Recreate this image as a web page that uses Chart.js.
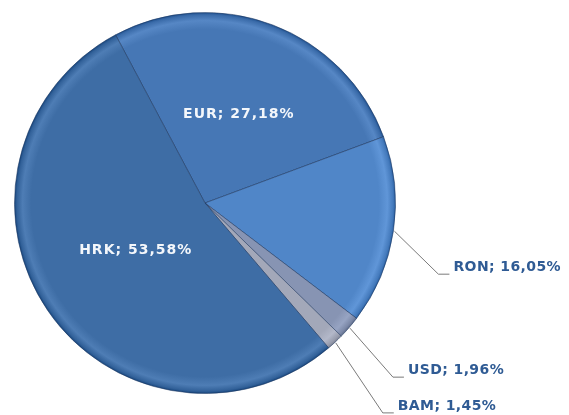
<!DOCTYPE html>
<html>
<head>
<meta charset="utf-8">
<script src="https://cdn.jsdelivr.net/npm/chart.js@4/dist/chart.umd.min.js"></script>
<style>
  html, body { margin: 0; padding: 0; background: #fff; }
  canvas { display: block; }
</style>
</head>
<body>
<canvas id="currencyPie" width="569" height="415"></canvas>
<script>
// currency share of the portfolio, clockwise from the EUR/HRK edge
const currencies = ["EUR", "RON", "USD", "BAM", "HRK"]
const shares = [27.18, 16.05, 1.96, 1.45, 53.58]
const sliceColors = ["#4677b5", "#5086c8", "#8794b3", "#a3a8b9", "#3e6da5"]

// label placement (style only): inside labels by radius fraction, outside ones by leader elbow offset
const insideLabel = { EUR: 0.5, HRK: 0.44 }
const leaderOffset = { RON: [44, 43], USD: [43, 49], BAM: [47, 70] }

function shade(hex, amt) {
  const n = parseInt(hex.slice(1), 16)
  const f = (c) => Math.max(0, Math.min(255, Math.round(c + amt)))
  return `rgb(${f(n >> 16)},${f((n >> 8) & 255)},${f(n & 255)})`
}

function bevelFill(context) {
  const chart = context.chart
  const area = chart.chartArea
  const base = sliceColors[context.dataIndex]
  if (!area) return base
  const cx = (area.left + area.right) / 2, cy = (area.top + area.bottom) / 2
  const r = Math.min(area.width, area.height) / 2
  const g = chart.ctx.createRadialGradient(cx, cy, 0, cx, cy, r)
  g.addColorStop(0, base)
  g.addColorStop(0.91, base)
  g.addColorStop(0.955, shade(base, 16))
  g.addColorStop(0.985, shade(base, -12))
  g.addColorStop(1, shade(base, -45))
  return g
}

const pctText = (v) => v.toFixed(2).replace(".", ",") + "%"

const labelPlugin = {
  id: "pieLabels",
  afterDatasetsDraw(chart) {
    const ctx = chart.ctx
    const meta = chart.getDatasetMeta(0)
    ctx.save()
    ctx.font = "bold 14px 'DejaVu Sans', Verdana, sans-serif"
    meta.data.forEach((arc, i) => {
      const p = arc.getProps(["x", "y", "startAngle", "endAngle", "outerRadius"], true)
      const mid = (p.startAngle + p.endAngle) / 2
      const name = currencies[i]
      const text = name + "; " + pctText(shares[i])
      if (insideLabel[name]) {
        const r = p.outerRadius * insideLabel[name]
        ctx.letterSpacing = "1px"
        ctx.fillStyle = "#f4f7fb"
        ctx.textAlign = "center"
        ctx.textBaseline = "middle"
        ctx.fillText(text, p.x + Math.cos(mid) * r, p.y + Math.sin(mid) * r)
        return
      }
      const off = leaderOffset[name]
      const sx = p.x + Math.cos(mid) * (p.outerRadius + 1)
      const sy = p.y + Math.sin(mid) * (p.outerRadius + 1)
      const ex = sx + off[0], ey = sy + off[1]
      ctx.strokeStyle = "#7a7a7a"
      ctx.lineWidth = 1
      ctx.beginPath()
      ctx.moveTo(sx, sy)
      ctx.lineTo(ex, ey)
      ctx.lineTo(ex + 11, ey)
      ctx.stroke()
      ctx.letterSpacing = "0.4px"
      ctx.fillStyle = "#2f5b94"
      ctx.textAlign = "left"
      ctx.textBaseline = "middle"
      ctx.fillText(text, ex + 15, ey - 7)
    })
    ctx.restore()
  }
}

new Chart(document.getElementById("currencyPie"), {
  type: "pie",
  data: {
    labels: currencies,
    datasets: [{
      data: shares,
      backgroundColor: bevelFill,
      borderColor: "rgba(30,55,95,0.55)",
      borderWidth: 1
    }]
  },
  options: {
    responsive: false,
    animation: false,
    rotation: -28,
    layout: { padding: { left: 14, top: 12, right: 173, bottom: 21 } },
    plugins: { legend: { display: false }, tooltip: { enabled: false } }
  },
  plugins: [labelPlugin]
})
</script>
</body>
</html>
